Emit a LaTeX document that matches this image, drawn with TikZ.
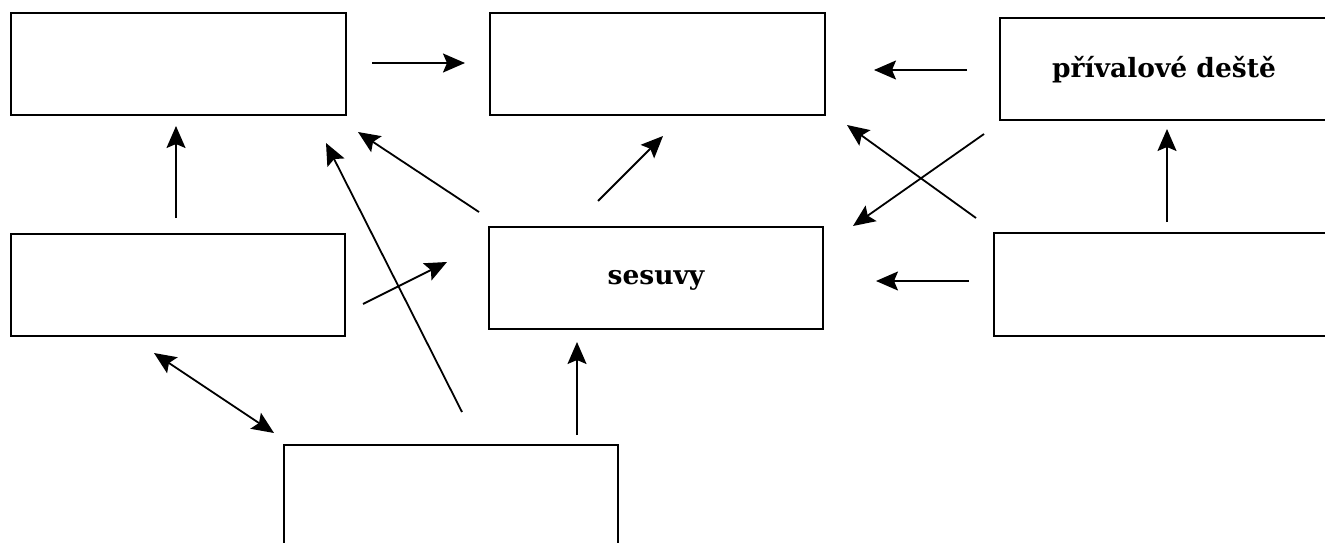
\documentclass[tikz,border=0pt]{standalone}
\usepackage{fontspec}
\setmainfont{DejaVu Serif}
\usetikzlibrary{arrows.meta}
\begin{document}
\begin{tikzpicture}[x=1pt,y=-1pt,
  box/.style={draw=black,line width=2.2pt,inner sep=0pt},
  arr/.style={line width=1.8pt,-{Stealth[length=22pt,width=19pt,inset=4pt]}},
  darr/.style={line width=1.8pt,{Stealth[length=22pt,width=19pt,inset=4pt]}-{Stealth[length=22pt,width=19pt,inset=4pt]}},
  lbl/.style={font=\fontsize{26.5}{30}\selectfont\bfseries}]
\useasboundingbox (0,0) rectangle (1325,543);
\fill[white] (0,0) rectangle (1325,543);
\clip (0,0) rectangle (1325,543);
% boxes
\draw[box] (11,13) rectangle (346,115);
\draw[box] (490,13) rectangle (825,115);
\draw[box] (1000,18) rectangle (1330,120);
\draw[box] (11,234) rectangle (345,336);
\draw[box] (489,227) rectangle (823,329);
\draw[box] (994,233) rectangle (1330,336);
\draw[box] (284,445) rectangle (618,560);
\node[lbl] (C) at (1164,70) {přívalové deště};
\node[lbl] (E) at (656,280) {sesuvy};
% arrow end points
\coordinate (a1s) at (372,63);  \coordinate (a1e) at (465,63);
\coordinate (a2s) at (967,70);  \coordinate (a2e) at (874,70);
\coordinate (a3s) at (976,218); \coordinate (a3e) at (847,125);
\coordinate (a4s) at (984,134); \coordinate (a4e) at (853,226);
\coordinate (a5s) at (969,281); \coordinate (a5e) at (876,281);
\coordinate (a6s) at (1167,222); \coordinate (a6e) at (1167,129);
\coordinate (a7s) at (176,218); \coordinate (a7e) at (176,126);
\coordinate (a8s) at (479,212); \coordinate (a8e) at (358,132);
\coordinate (a9s) at (462,412); \coordinate (a9e) at (326,143);
\coordinate (a10s) at (363,304); \coordinate (a10e) at (447,262);
\coordinate (a11s) at (154,353); \coordinate (a11e) at (274,433);
\coordinate (a12s) at (598,201); \coordinate (a12e) at (663,136);
\coordinate (a13s) at (577,435); \coordinate (a13e) at (577,342);
\draw[arr] (a1s) -- (a1e);
\draw[arr] (a2s) -- (a2e);
\draw[arr] (a3s) -- (a3e);
\draw[arr] (a4s) -- (a4e);
\draw[arr] (a5s) -- (a5e);
\draw[arr] (a6s) -- (a6e);
\draw[arr] (a7s) -- (a7e);
\draw[arr] (a8s) -- (a8e);
\draw[arr] (a9s) -- (a9e);
\draw[arr] (a10s) -- (a10e);
\draw[darr] (a11s) -- (a11e);
\draw[arr] (a12s) -- (a12e);
\draw[arr] (a13s) -- (a13e);
\end{tikzpicture}
\end{document}
